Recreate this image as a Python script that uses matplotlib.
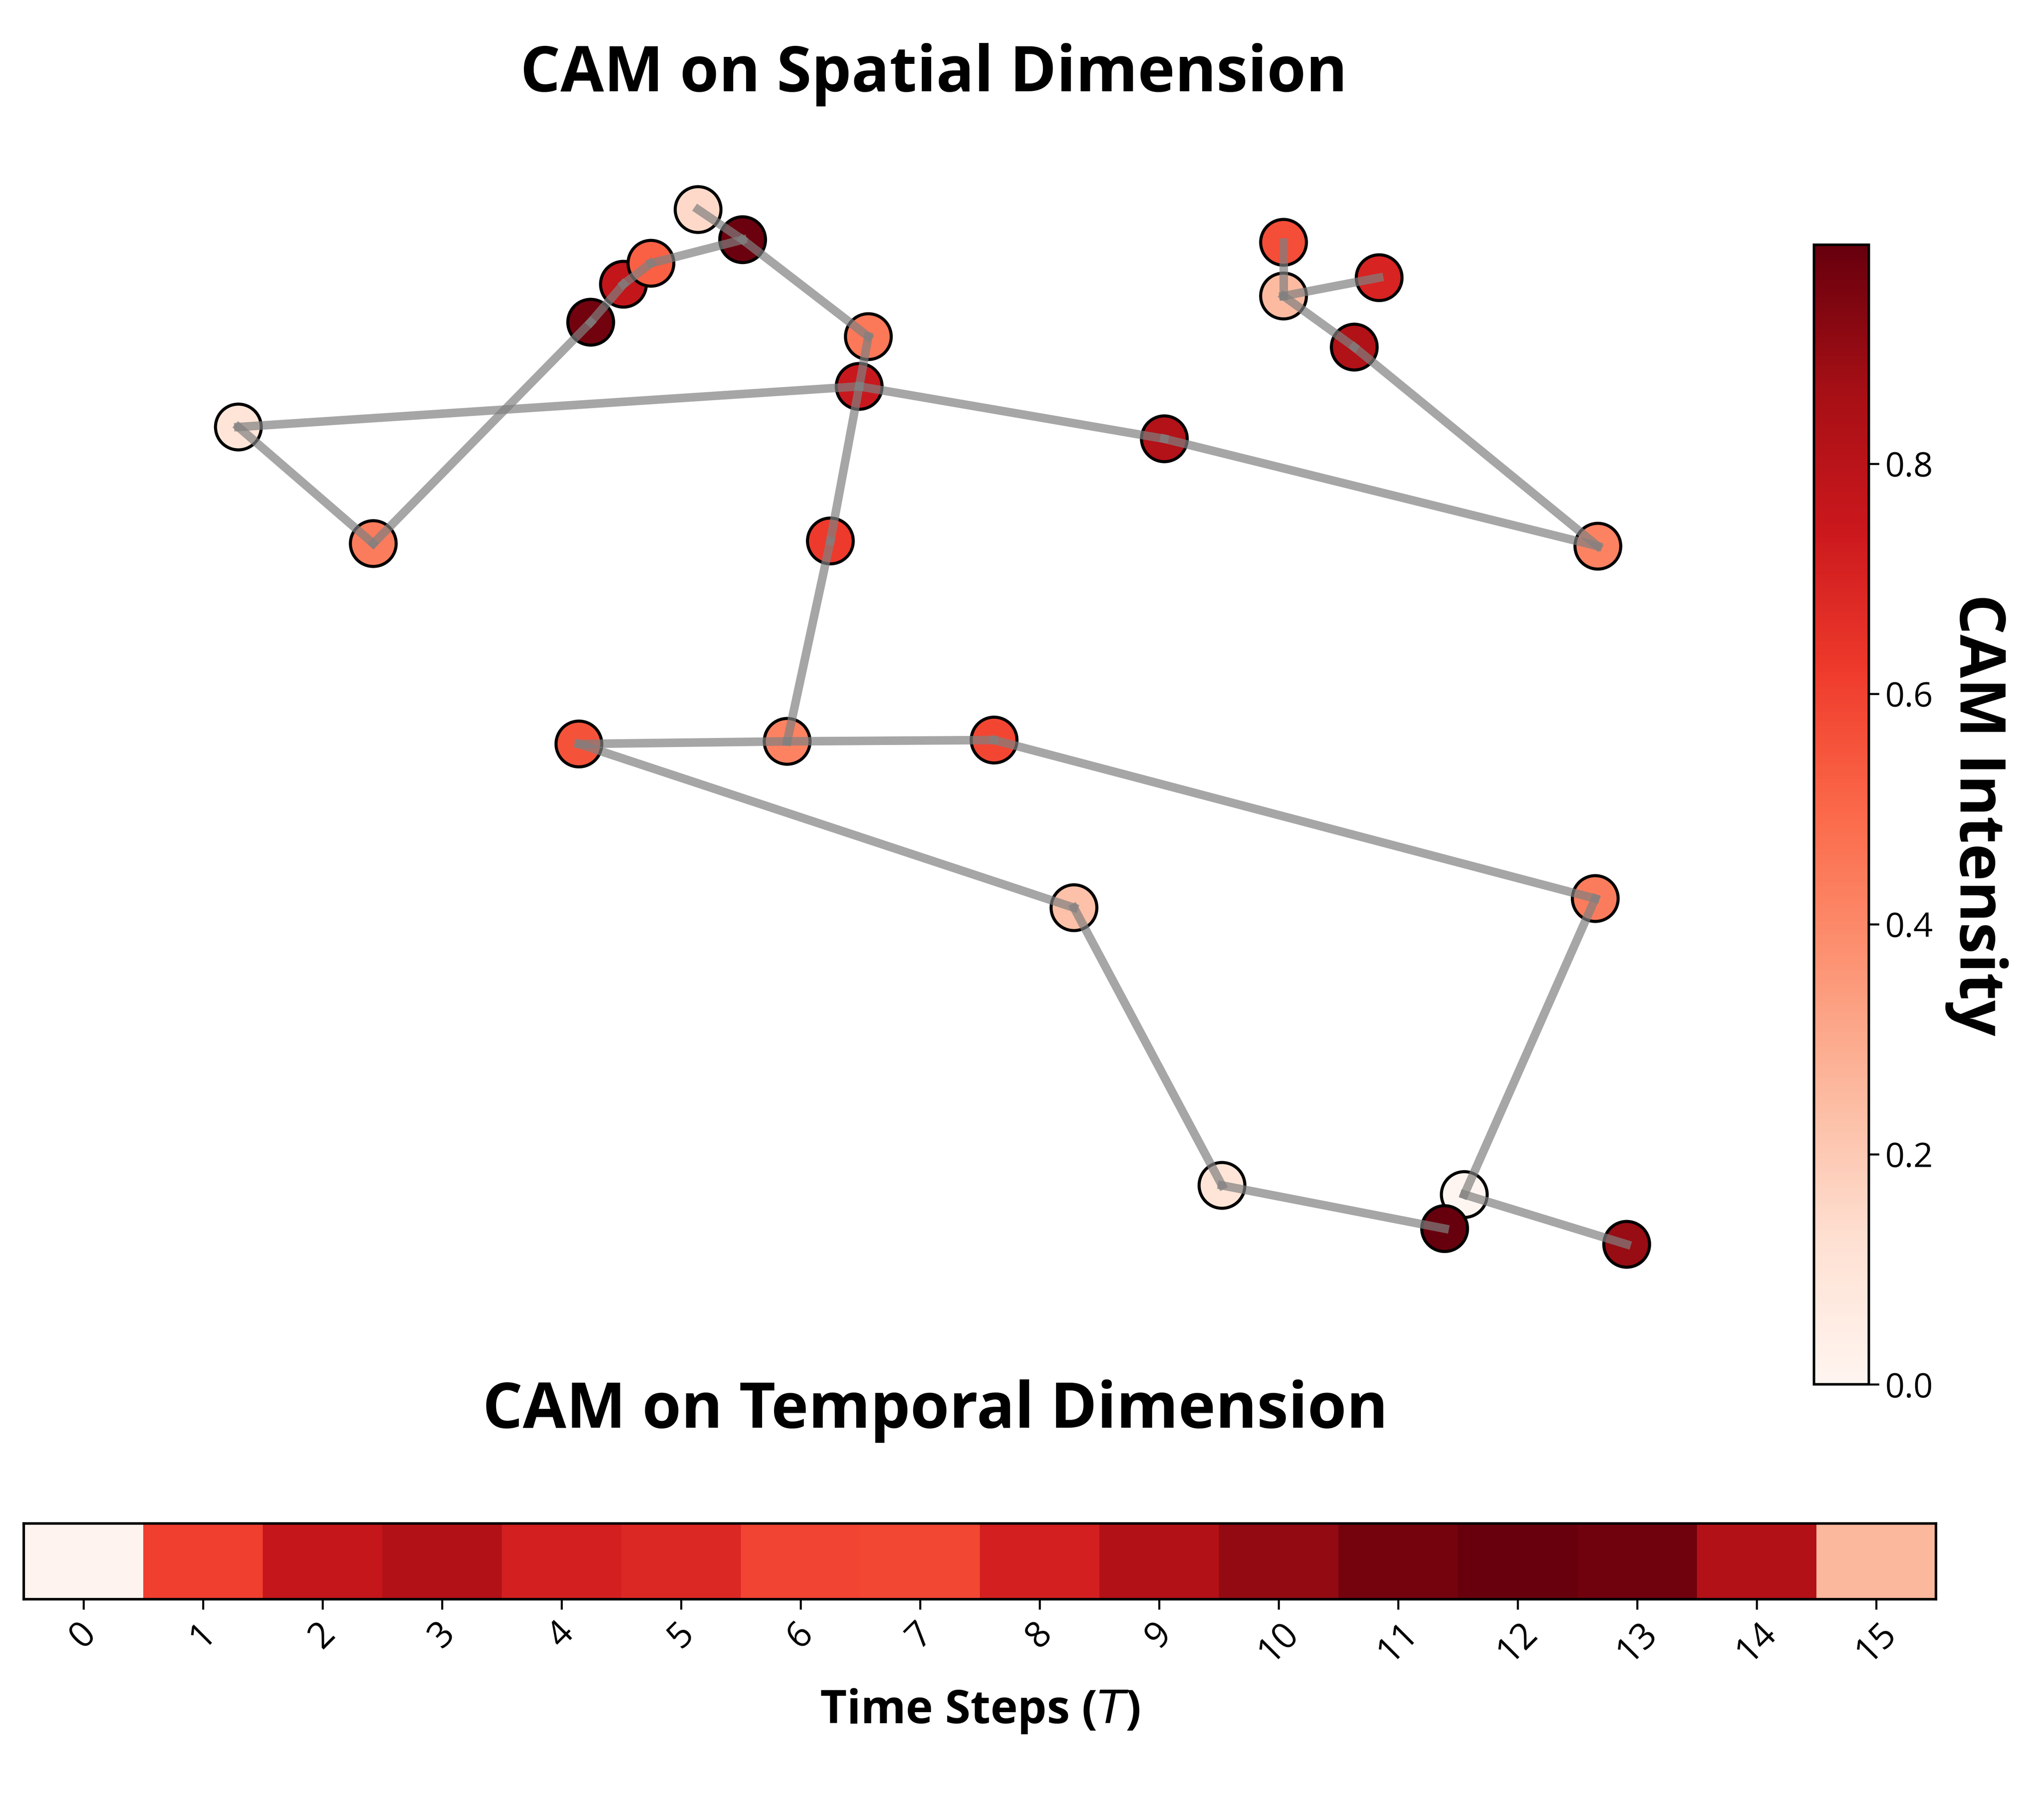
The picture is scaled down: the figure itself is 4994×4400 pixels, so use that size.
import numpy as np
import matplotlib
matplotlib.use("Agg")
import matplotlib.pyplot as plt

plt.rcParams['font.family'] = ['Open Sans', 'DejaVu Sans']

# joint positions (arbitrary units)
joint_x = [-0.334, -0.266, -0.498, -0.448, -0.406, -0.088, -0.074, -1.036, -0.830, 0.378,
           -0.132, 0.560, 0.706, 0.560, 0.668, 1.040, -0.516, -0.198, 0.118, 0.240,
           1.036, 0.466, 0.836, 0.806, 1.084]
joint_y = [1.080, 1.034, 0.908, 0.966, 0.998, 0.810, 0.886, 0.748, 0.570, 0.730,
           0.574, 1.030, 0.976, 0.948, 0.870, 0.566, 0.264, 0.268, 0.270, 0.014,
           0.028, -0.410, -0.424, -0.476, -0.500]
# spatial CAM per joint
joint_cam = [0.15, 0.98, 0.97, 0.77, 0.52, 0.75, 0.45, 0.10, 0.44, 0.82,
             0.62, 0.57, 0.70, 0.25, 0.83, 0.42, 0.56, 0.42, 0.59, 0.23,
             0.44, 0.10, 0.00, 0.99, 0.89]
bones = [(0, 1), (1, 6), (1, 4), (4, 3), (3, 2), (2, 8), (8, 7), (7, 5), (6, 5),
         (5, 10), (10, 17), (5, 9), (9, 15), (15, 14), (14, 13), (13, 11), (13, 12),
         (17, 16), (16, 19), (19, 21), (21, 23), (17, 18), (18, 20), (20, 22), (22, 24)]

# temporal CAM per time step
time_steps = list(range(16))
time_cam = [0.01, 0.61, 0.77, 0.83, 0.72, 0.69, 0.60, 0.59, 0.72, 0.83,
            0.91, 0.97, 1.00, 0.98, 0.83, 0.26]

W, H = 4994 / 3.2, 4400 / 3.2   # layout worked out in screen px
fig = plt.figure(figsize=(4994 / 300, 4400 / 300), dpi=300)

# spatial part
ax1 = fig.add_axes([60 / W, (H - 1010) / H, 1306 / W, 900 / H])
for a, b in bones:
    ax1.plot([joint_x[a], joint_x[b]], [joint_y[a], joint_y[b]],
             color='gray', alpha=0.7, lw=5, zorder=3)
sc = ax1.scatter(joint_x, joint_y, c=joint_cam, cmap='Reds', s=720,
                 edgecolors='black', linewidths=1.8, zorder=2)
ax1.set_xlim(-1.28, 1.332)
ax1.set_ylim(-0.62, 1.18)
ax1.axis('off')
ax1.set_title('CAM on Spatial Dimension', fontsize=37, fontweight='bold', pad=31)

cax = fig.add_axes([1385 / W, (H - 1057) / H, 42 / W, 870 / H])
cbar = fig.colorbar(sc, cax=cax)
cbar.outline.set_linewidth(1.5)
cbar.ax.tick_params(labelsize=20, width=1.2, length=6)
cbar.set_label('CAM Intensity', fontsize=37, fontweight='bold', rotation=270, labelpad=44)

# temporal part
ax2 = fig.add_axes([18 / W, (H - 1221) / H, 1460 / W, 58 / H])
ax2.imshow(np.array(time_cam)[None, :], cmap='Reds', vmin=0, vmax=1, aspect='auto')
ax2.set_yticks([])
ax2.set_xticks(time_steps)
ax2.set_xticklabels([str(t) for t in time_steps], rotation=45, fontsize=21)
ax2.tick_params(axis='x', length=6, width=1.2)
for s in ax2.spines.values():
    s.set_linewidth(1.5)
ax2.set_xlabel('Time Steps ($T$)', fontsize=27, fontweight='bold', labelpad=10)
ax2.set_title('CAM on Temporal Dimension', fontsize=37, fontweight='bold', pad=56,
              x=(714 - 18) / 1460)

fig.savefig('out.png', dpi=300)
